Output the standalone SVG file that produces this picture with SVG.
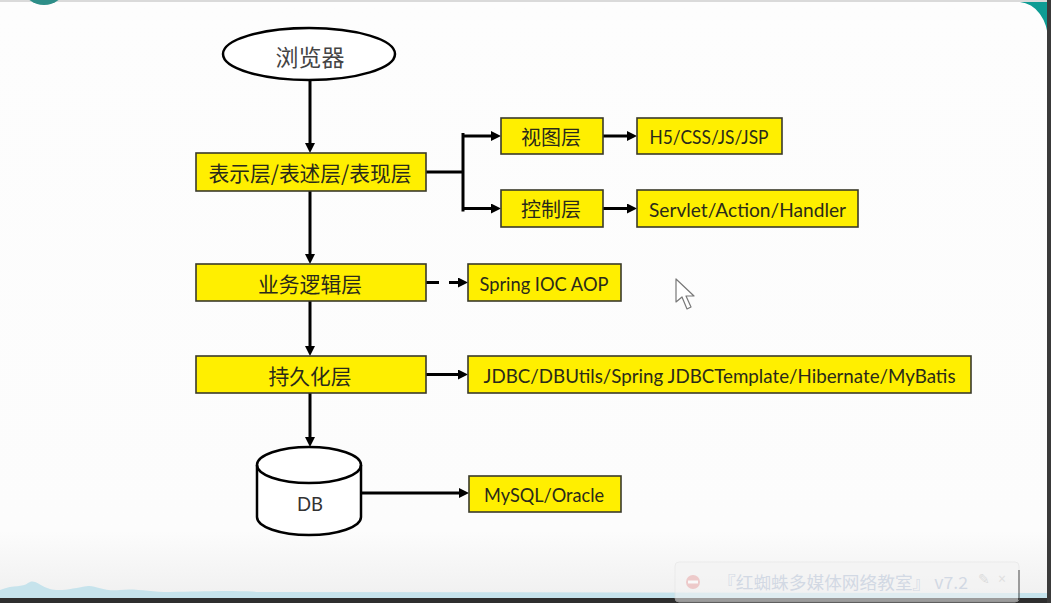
<svg xmlns="http://www.w3.org/2000/svg" width="1051" height="603" viewBox="0 0 1051 603">
  <defs>
    <marker id="arr" markerUnits="userSpaceOnUse" markerWidth="12" markerHeight="12" refX="2" refY="5" orient="auto">
      <path d="M0,0 L10,5 L0,10 Z" fill="#000"/>
    </marker>
    <linearGradient id="bg" x1="0" y1="0" x2="0" y2="1">
      <stop offset="0" stop-color="#FDFDFD"/>
      <stop offset="0.88" stop-color="#FCFCFC"/>
      <stop offset="1" stop-color="#EFEFEF"/>
    </linearGradient>
    <style>
      .box { fill: #FFEF00; stroke: #3A3A2A; stroke-width: 1.6; }
      .cn { font-family: "Noto Sans CJK SC", "Noto Sans", sans-serif; fill: #2A2A1A; text-anchor: middle; dominant-baseline: central; }
      .en { font-family: Lato, "Open Sans", "Liberation Sans", sans-serif; fill: #2A2A1A; text-anchor: middle; dominant-baseline: central; font-size: 20px; }
      .ln { fill: none; stroke: #000; stroke-width: 3; }
      .arw { marker-end: url(#arr); }
    </style>
  </defs>

  <!-- background / screen frame -->
  <rect x="0" y="0" width="1051" height="603" fill="url(#bg)"/>
  <rect x="0" y="0" width="1051" height="2" fill="#DADADA"/>
  <ellipse cx="44" cy="-11" rx="20" ry="16" fill="#2E8E88"/>
  <path d="M1020,2 L1048,2 L1048,40 A30,38 0 0 0 1020,2 Z" fill="#0E9C94"/>
  <path d="M0,590 C15,584 22,588 28,583 C34,578 40,586 50,589 C60,592 75,588 88,586 C95,585 105,592 120,590 C135,588 150,592 170,592 C200,592 220,590 260,592 L1047,593 L1047,599 L0,599 Z" fill="#C6E3EC"/>
  <rect x="0" y="598" width="1051" height="5" fill="#2E2E2E"/>
  <rect x="1047" y="0" width="4" height="603" fill="#3A3A3A"/>

  <!-- watermark -->
  <g id="watermark" opacity="0.55">
    <rect x="675" y="562" width="344" height="40" rx="4" fill="#F4F4F4" stroke="#E2E2E2"/>
    <rect x="1018" y="570" width="2" height="30" fill="#555"/>
    <circle cx="693" cy="582" r="7" fill="#E9A9A9"/>
    <rect x="688" y="580.5" width="10" height="3" fill="#FFF"/>
    <text x="718" y="589" font-family="Noto Sans CJK SC, sans-serif" font-size="17" fill="#B8C4D8" textLength="250" lengthAdjust="spacingAndGlyphs">『红蜘蛛多媒体网络教室』 v7.2</text>
    <text x="978" y="584" font-family="Noto Sans, sans-serif" font-size="14" fill="#C8C8C8">✎</text>
    <text x="998" y="584" font-family="Noto Sans, sans-serif" font-size="14" fill="#D0D0D0">×</text>
  </g>

  <!-- mouse cursor -->
  <path d="M676,279 L676,302 L682,297 L687,309 L691,307 L686,296 L694,296 Z" fill="#FFF" stroke="#777" stroke-width="1.2" stroke-linejoin="round"/>

  <!-- connectors -->
  <g id="connectors">
    <path class="ln arw" d="M310,80 V145"/>
    <path class="ln arw" d="M310,191 V256"/>
    <path class="ln arw" d="M310,301 V348"/>
    <path class="ln arw" d="M310,393 V439"/>
    <path class="ln" d="M426,172 H463"/>
    <path class="ln" d="M463,134.5 V210" stroke-linecap="square"/>
    <path class="ln arw" d="M463,136 H493"/>
    <path class="ln arw" d="M463,208.5 H493"/>
    <path class="ln arw" d="M603,136 H629"/>
    <path class="ln arw" d="M603,208.5 H629"/>
    <path class="ln arw" d="M426,282.5 H460" stroke-dasharray="13 10"/>
    <path class="ln arw" d="M426,374.5 H460"/>
    <path class="ln arw" d="M361,493 H461" stroke-width="2.5"/>
  </g>

  <!-- nodes -->
  <g id="browser">
    <ellipse cx="309" cy="54" rx="86" ry="26" fill="#FFF" stroke="#000" stroke-width="2.5"/>
    <text class="cn" x="310" y="56" font-size="23" fill="#444" style="fill:#444">浏览器</text>
  </g>
  <g id="presentation">
    <rect class="box" x="196" y="153" width="230" height="38"/>
    <text class="cn" x="310" y="172" font-size="21" textLength="203" lengthAdjust="spacingAndGlyphs">表示层/表述层/表现层</text>
  </g>
  <g id="view">
    <rect class="box" x="501" y="118" width="102" height="36"/>
    <text class="cn" x="551" y="136" font-size="20">视图层</text>
  </g>
  <g id="view-tech">
    <rect class="box" x="637" y="118" width="145" height="36"/>
    <text class="en" x="709" y="136" textLength="119" lengthAdjust="spacingAndGlyphs">H5/CSS/JS/JSP</text>
  </g>
  <g id="controller">
    <rect class="box" x="501" y="190" width="102" height="37"/>
    <text class="cn" x="551" y="208.5" font-size="20">控制层</text>
  </g>
  <g id="controller-tech">
    <rect class="box" x="637" y="190" width="221" height="37"/>
    <text class="en" x="747.5" y="208.5" textLength="197" lengthAdjust="spacingAndGlyphs">Servlet/Action/Handler</text>
  </g>
  <g id="business">
    <rect class="box" x="196" y="264" width="230" height="37"/>
    <text class="cn" x="310" y="282.5" font-size="21" textLength="104" lengthAdjust="spacingAndGlyphs">业务逻辑层</text>
  </g>
  <g id="business-tech">
    <rect class="box" x="468" y="264" width="153" height="37"/>
    <text class="en" x="544" y="282.5" textLength="129" lengthAdjust="spacingAndGlyphs">Spring IOC AOP</text>
  </g>
  <g id="persistence">
    <rect class="box" x="196" y="356" width="230" height="37"/>
    <text class="cn" x="310" y="374.5" font-size="21" textLength="83" lengthAdjust="spacingAndGlyphs">持久化层</text>
  </g>
  <g id="persistence-tech">
    <rect class="box" x="468" y="356" width="503" height="37"/>
    <text class="en" x="719.5" y="374.5" textLength="472" lengthAdjust="spacingAndGlyphs">JDBC/DBUtils/Spring JDBCTemplate/Hibernate/MyBatis</text>
  </g>
  <g id="db">
    <path d="M257,465 A52,18 0 0 1 361,465 V517 A52,18 0 0 1 257,517 Z" fill="#FFF" stroke="#000" stroke-width="2.5"/>
    <path d="M257,465 A52,18 0 0 0 361,465" fill="none" stroke="#000" stroke-width="2.5"/>
    <text class="en" x="310" y="503" textLength="26" lengthAdjust="spacingAndGlyphs" style="fill:#333">DB</text>
  </g>
  <g id="db-tech">
    <rect class="box" x="469" y="476" width="152" height="36"/>
    <text class="en" x="544" y="494" textLength="120" lengthAdjust="spacingAndGlyphs">MySQL/Oracle</text>
  </g>
</svg>
